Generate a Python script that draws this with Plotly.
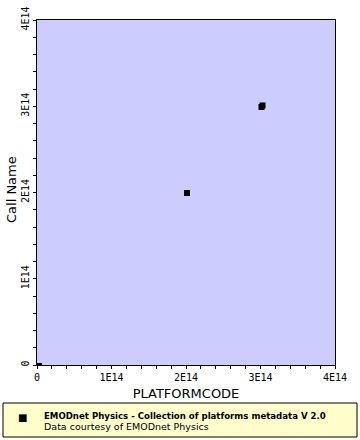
import plotly.graph_objects as go

platformcode = [2.7e12, 2.013e14, 3.013e14, 3.027e14]
call_name = [-1.2e12, 1.994e14, 2.991e14, 3.009e14]

tick_vals = [0, 1e14, 2e14, 3e14, 4e14]
tick_text = ["0", "1E14", "2E14", "3E14", "4E14"]

legend_title = "EMODnet Physics - Collection of platforms metadata V 2.0"
legend_sub = "Data courtesy of EMODnet Physics"

fig = go.Figure()
fig.add_trace(go.Scatter(
    x=platformcode, y=call_name, mode="markers",
    marker=dict(symbol="square", size=6, color="black", line=dict(width=0)),
    showlegend=False, cliponaxis=True,
))

axis_common = dict(
    range=[0, 4e14], tickvals=tick_vals, ticktext=tick_text,
    showgrid=False, zeroline=False, showline=True, linecolor="black", linewidth=1,
    mirror=True, ticks="outside", ticklen=3, tickcolor="black", tickwidth=1,
    minor=dict(ticks="outside", ticklen=3, tickcolor="black", dtick=2e13, showgrid=False),
    tickfont=dict(family="DejaVu Sans Mono", size=10, color="black"),
    title_font=dict(family="DejaVu Sans", size=13, color="black"),
    fixedrange=True, automargin=False,
)

fig.update_xaxes(**axis_common, title_text="PLATFORMCODE", title_standoff=6)
fig.update_yaxes(**axis_common, tickangle=-90)

fig.add_annotation(xref="paper", yref="paper", x=(11-37)/298, y=(365-190)/345,
                   text="Call Name", textangle=-90, showarrow=False,
                   xanchor="center", yanchor="middle",
                   font=dict(family="DejaVu Sans", size=13, color="black"))

fig.add_shape(type="rect", xref="paper", yref="paper",
              x0=-34/298, x1=(357-37)/298, y0=-(437-365)/345, y1=-(403-365)/345,
              fillcolor="#ffffcc", line=dict(color="black", width=1), layer="below")
fig.add_annotation(xref="paper", yref="paper", x=(22-37)/298, y=-(417-365)/345,
                   text="■", showarrow=False, xanchor="center", yanchor="middle",
                   font=dict(family="DejaVu Sans", size=10, color="black"))
fig.add_annotation(xref="paper", yref="paper", x=(42-37)/298, y=-(416-365)/345,
                   text="<b>" + legend_title + "</b>", showarrow=False,
                   xanchor="left", yanchor="middle",
                   font=dict(family="DejaVu Sans", size=8.6, color="black"))
fig.add_annotation(xref="paper", yref="paper", x=(42-37)/298, y=-(426-365)/345,
                   text=legend_sub, showarrow=False,
                   xanchor="left", yanchor="middle",
                   font=dict(family="DejaVu Sans", size=9.5, color="black"))

fig.update_layout(
    width=360, height=440,
    margin=dict(l=37, r=25, t=20, b=75, autoexpand=False),
    plot_bgcolor="#ccccff", paper_bgcolor="white",
    showlegend=False,
)

fig.write_html("out.html", config={"displayModeBar": False},
               post_script="document.body.style.margin='0';document.body.style.overflow='hidden';")
